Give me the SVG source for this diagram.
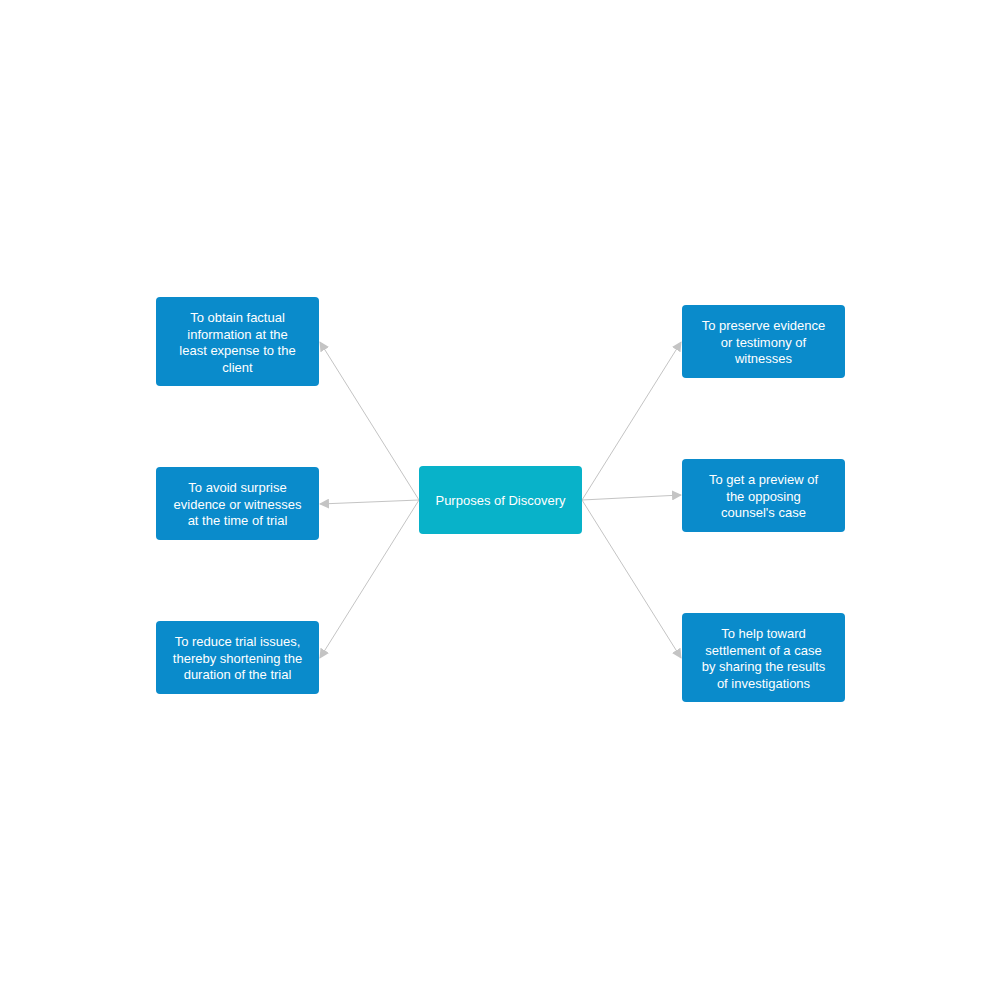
<svg xmlns="http://www.w3.org/2000/svg" width="1000" height="1000" viewBox="0 0 1000 1000">
<defs>
<style>
.n{fill:#0a8bcb}
.c{fill:#08b2c9}
text{font-family:"Liberation Sans",Arial,sans-serif;font-size:13px;fill:#fff;text-anchor:middle}
.e{stroke:#c4c4c4;stroke-width:1;fill:none;marker-end:url(#a)}
</style>
<marker id="a" viewBox="0 0 10 10" refX="9" refY="5" markerWidth="10" markerHeight="10" markerUnits="userSpaceOnUse" orient="auto"><path d="M0,0L10,5L0,10z" fill="#c4c4c4"/></marker>
</defs>
<rect width="1000" height="1000" fill="#fff"/>
<g id="edges">
<line class="e" x1="419" y1="500" x2="320" y2="342"/>
<line class="e" x1="419" y1="500" x2="320" y2="504"/>
<line class="e" x1="419" y1="500" x2="320" y2="658"/>
<line class="e" x1="582" y1="500" x2="681" y2="342"/>
<line class="e" x1="582" y1="500" x2="681" y2="495"/>
<line class="e" x1="582" y1="500" x2="681" y2="658"/>
</g>
<g id="center"><rect class="c" x="419" y="466" width="163" height="68" rx="4"/><text x="500.5" y="505">Purposes of Discovery</text></g>
<g id="n1"><rect class="n" x="156" y="297" width="163" height="89" rx="4"/><text x="237.5" y="322">To obtain factual</text><text x="237.5" y="338.5">information at the</text><text x="237.5" y="355">least expense to the</text><text x="237.5" y="371.5">client</text></g>
<g id="n2"><rect class="n" x="156" y="467" width="163" height="73" rx="4"/><text x="237.5" y="492">To avoid surprise</text><text x="237.5" y="508.5">evidence or witnesses</text><text x="237.5" y="525">at the time of trial</text></g>
<g id="n3"><rect class="n" x="156" y="621" width="163" height="73" rx="4"/><text x="237.5" y="646">To reduce trial issues,</text><text x="237.5" y="662.5">thereby shortening the</text><text x="237.5" y="679">duration of the trial</text></g>
<g id="n4"><rect class="n" x="682" y="305" width="163" height="73" rx="4"/><text x="763.5" y="330">To preserve evidence</text><text x="763.5" y="346.5">or testimony of</text><text x="763.5" y="363">witnesses</text></g>
<g id="n5"><rect class="n" x="682" y="459" width="163" height="73" rx="4"/><text x="763.5" y="484">To get a preview of</text><text x="763.5" y="500.5">the opposing</text><text x="763.5" y="517">counsel's case</text></g>
<g id="n6"><rect class="n" x="682" y="613" width="163" height="89" rx="4"/><text x="763.5" y="638">To help toward</text><text x="763.5" y="654.5">settlement of a case</text><text x="763.5" y="671">by sharing the results</text><text x="763.5" y="687.5">of investigations</text></g>
</svg>
